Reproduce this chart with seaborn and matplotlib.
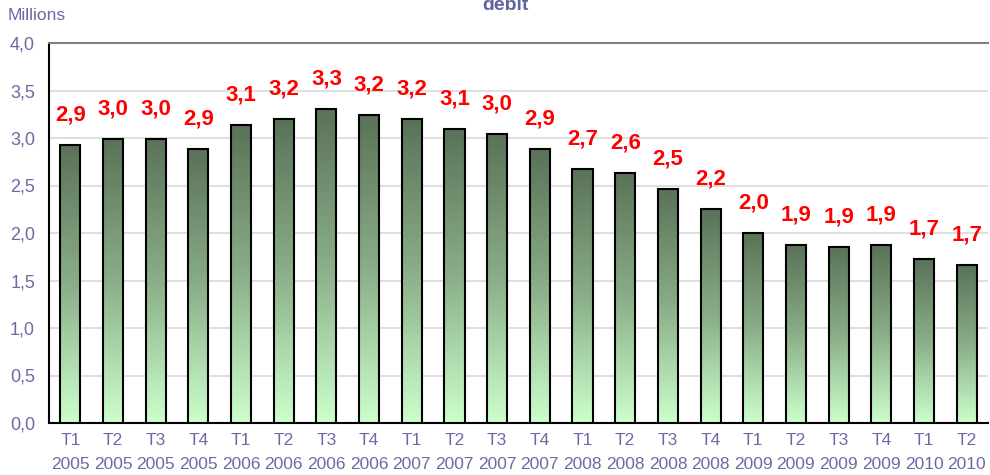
import numpy as np
import pandas as pd
import matplotlib
matplotlib.use("Agg")
import matplotlib.pyplot as plt
from matplotlib.colors import LinearSegmentedColormap
import seaborn as sns

quarters = ["T1", "T2", "T3", "T4"] * 5 + ["T1", "T2"]
years = ["2005"] * 4 + ["2006"] * 4 + ["2007"] * 4 + ["2008"] * 4 + ["2009"] * 4 + ["2010"] * 2
values = [2.93, 2.99, 2.99, 2.88, 3.14, 3.20, 3.31, 3.24, 3.20, 3.10, 3.04,
          2.88, 2.67, 2.63, 2.46, 2.25, 2.00, 1.87, 1.85, 1.87, 1.73, 1.66]

labels = [f"{q}\n{y}" for q, y in zip(quarters, years)]
df = pd.DataFrame({"periode": labels, "valeur": values})

sns.set_style("white")
plt.rcParams["font.family"] = ["Liberation Sans", "DejaVu Sans"]

txt_col = "#6b6ba3"

fig = plt.figure(figsize=(9.9, 4.75), dpi=100)
ax = fig.add_axes([49 / 990, 52 / 475, 939 / 990, 380 / 475])

sns.barplot(data=df, x="periode", y="valeur", ax=ax, width=0.47,
            color="#5b7459", edgecolor="black", linewidth=1.5, zorder=3)

# degrade vert sur chaque barre
cmap = LinearSegmentedColormap.from_list("vert", ["#ccffcc", "#8aae88", "#5a7258"])
grad = np.linspace(0, 1, 256).reshape(-1, 1)
for p in ax.patches:
    x0, y0 = p.get_x(), p.get_y()
    w, h = p.get_width(), p.get_height()
    im = ax.imshow(grad, cmap=cmap, origin="lower", aspect="auto",
                   extent=[x0, x0 + w, y0, y0 + h], zorder=3.5)
    im.set_clip_path(p)
    p.set_facecolor("none")
    p.set_zorder(4)

for i, v in enumerate(values):
    ax.annotate(f"{v:.1f}".replace(".", ","), (i, v), xytext=(0, 14),
                textcoords="offset points", ha="center", va="bottom",
                color="#ff0000", fontsize=16, fontweight="bold", zorder=5)

ax.set_xlim(-0.5, len(values) - 0.5)
ax.set_ylim(0, 4.0)
ax.set_yticks(np.arange(0, 4.01, 0.5))
ax.set_yticklabels([f"{t:.1f}".replace(".", ",") for t in np.arange(0, 4.01, 0.5)])
ax.set_xticks(range(len(labels)))
ax.set_xticklabels(labels, linespacing=1.75)
ax.set_xticks(np.arange(-0.5, len(values), 1), minor=True)
ax.tick_params(axis="x", which="major", length=0, pad=7, labelsize=12.5, labelcolor=txt_col)
ax.tick_params(axis="x", which="minor", length=6, width=1.2, color="#333333")
ax.tick_params(axis="y", length=6, width=1, color="#555555", labelsize=13,
               labelcolor=txt_col, pad=4)
ax.yaxis.grid(True, color="#d9d9d9", linewidth=1.2, zorder=0)
ax.set_axisbelow(True)
ax.set_xlabel("")
ax.set_ylabel("")

ax.spines["left"].set_color("black")
ax.spines["left"].set_linewidth(1.5)
ax.spines["bottom"].set_color("black")
ax.spines["bottom"].set_linewidth(1.5)
ax.spines["top"].set_color("#808080")
ax.spines["top"].set_linewidth(1.5)
ax.spines["right"].set_visible(False)

fig.text(8 / 990, 1 - 16 / 475, "Millions", color=txt_col, fontsize=12.5, va="center")
fig.text(505 / 990, 1 - 10 / 475, "debit", color="#6262a0", fontsize=14,
         fontweight="bold", ha="center", va="baseline")

fig.savefig("out.png", dpi=100)
